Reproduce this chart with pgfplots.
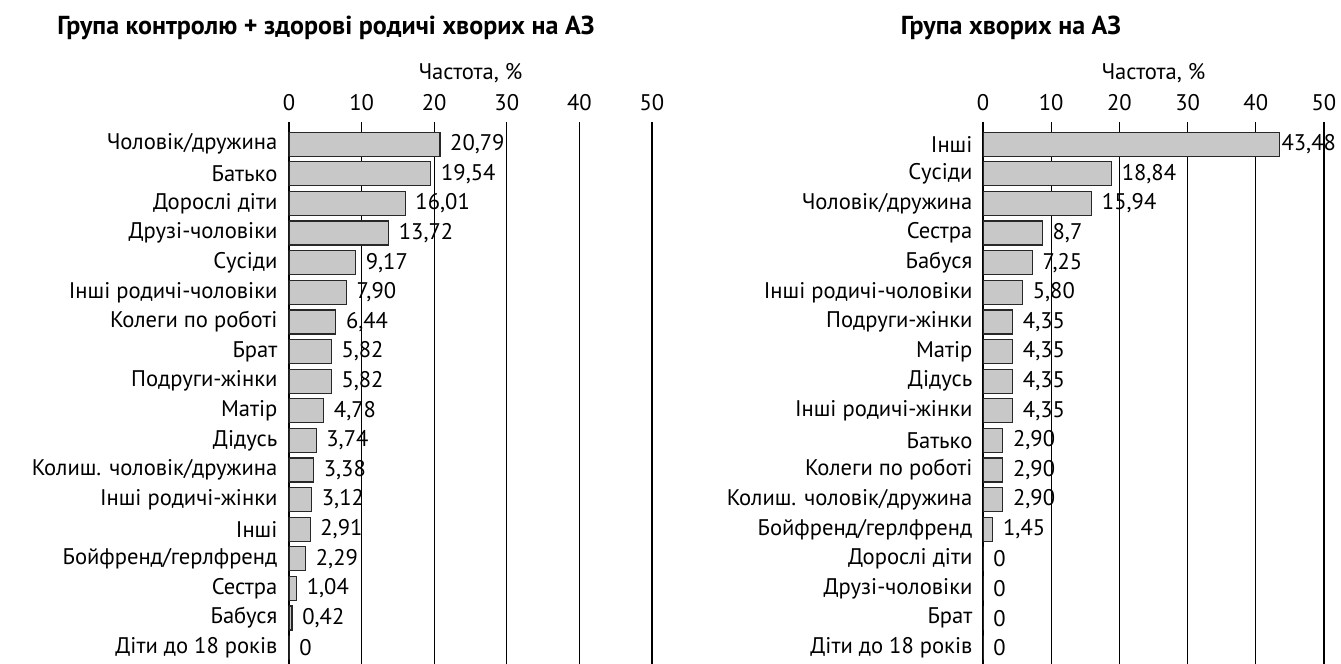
\documentclass[border=0pt]{standalone}
\usepackage{fontspec}
\setmainfont{PT Sans}
\usepackage{pgfplots}
\pgfplotsset{compat=1.18}
\usepackage{pgfplotstable}

\pgfplotstableread{
y x lab dx
0 20.79 20,79 1.5
1 19.54 19,54 1.5
2 16.01 16,01 1.5
3 13.72 13,72 1.5
4 9.17 9,17 1.5
5 7.90 7,90 1.5
6 6.44 6,44 1.5
7 5.82 5,82 1.5
8 5.82 5,82 1.5
9 4.78 4,78 1.5
10 3.74 3,74 1.5
11 3.38 3,38 1.5
12 3.12 3,12 1.5
13 2.91 2,91 1.5
14 2.29 2,29 1.5
15 1.04 1,04 1.5
16 0.42 0,42 1.5
17 0 0 1.5
}\leftdata

\pgfplotstableread{
y x lab dx
0 43.48 43,48 -2.6
1 18.84 18,84 1.5
2 15.94 15,94 1.5
3 8.7 8,7 1.5
4 7.25 7,25 1.5
5 5.80 5,80 1.5
6 4.35 4,35 1.5
7 4.35 4,35 1.5
8 4.35 4,35 1.5
9 4.35 4,35 1.5
10 2.90 2,90 1.5
11 2.90 2,90 1.5
12 2.90 2,90 1.5
13 1.45 1,45 1.5
14 0 0 1.5
15 0 0 1.5
16 0 0 1.5
17 0 0 1.5
}\rightdata

\pgfplotsset{mybar/.style={
  scale only axis, height=271pt,
  xbar, bar width=12pt,
  xmin=0, xmax=50, ymin=-0.75, ymax=17.55, y dir=reverse,
  xtick={0,10,...,50}, ytick={0,...,17},
  xmajorgrids, major grid style={black, line width=0.6pt},
  axis line style={draw=none}, tick style={draw=none},
  xticklabel pos=upper,
  /pgf/number format/assume math mode=true,
  tick label style={font=\fontsize{11.3}{13}\selectfont},
  xticklabel style={anchor=center, yshift=9.5pt},
  xlabel={Частота, \%},
  xlabel style={at={(axis description cs:0.5,1)}, anchor=center, yshift=24.5pt, font=\fontsize{11.3}{13}\selectfont},
  point meta=explicit symbolic,
  nodes near coords={\pgfplotspointmeta},
  visualization depends on={\thisrow{dx} \as \dx},
  nodes near coords style={anchor=west, xshift=\dx pt, font=\fontsize{11.3}{13}\selectfont},
}}

\begin{document}
\begin{tikzpicture}
\useasboundingbox (0,0) rectangle (670.5pt,332pt);
\node[font=\bfseries\fontsize{13}{15}\selectfont] at (163pt,318pt) {Група контролю + здорові родичі хворих на АЗ};
\node[font=\bfseries\fontsize{13}{15}\selectfont] at (505.5pt,318pt) {Група хворих на АЗ};

\begin{axis}[mybar, at={(144.5pt,0pt)}, anchor=south west, width=181.5pt,
  yticklabel style={xshift=2pt},
  yticklabels={Чоловік/дружина, Батько, Дорослі діти, Друзі-чоловіки, Сусіди, Інші родичі-чоловіки, Колеги по роботі, Брат, Подруги-жінки, Матір, Дідусь, Колиш. чоловік/дружина, Інші родичі-жінки, Інші, Бойфренд/герлфренд, Сестра, Бабуся, Діти до 18 років}]
\addplot[fill={rgb,255:red,200;green,200;blue,200}, draw={rgb,255:red,40;green,40;blue,40}, line width=0.6pt] table[x=x, y=y, meta=lab] {\leftdata};
\end{axis}

\begin{axis}[mybar, at={(491.5pt,0pt)}, anchor=south west, width=170.5pt,
  yticklabel style={xshift=2.5pt},
  yticklabels={Інші, Сусіди, Чоловік/дружина, Сестра, Бабуся, Інші родичі-чоловіки, Подруги-жінки, Матір, Дідусь, Інші родичі-жінки, Батько, Колеги по роботі, Колиш. чоловік/дружина, Бойфренд/герлфренд, Дорослі діти, Друзі-чоловіки, Брат, Діти до 18 років}]
\addplot[fill={rgb,255:red,200;green,200;blue,200}, draw={rgb,255:red,40;green,40;blue,40}, line width=0.6pt] table[x=x, y=y, meta=lab] {\rightdata};
\end{axis}
\end{tikzpicture}
\end{document}
